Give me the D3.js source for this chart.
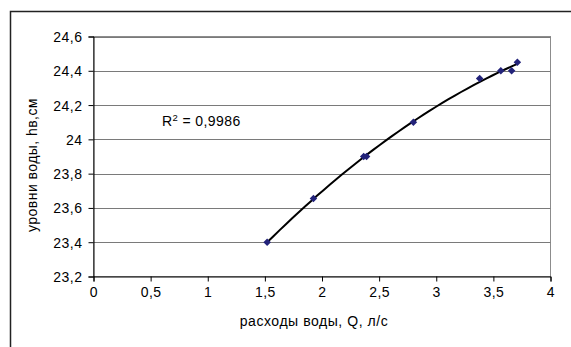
<!DOCTYPE html>
<html>
<head>
<meta charset="utf-8">
<script src="https://cdn.jsdelivr.net/npm/d3@7"></script>
<style>
  body { margin: 0; background: #fff; }
  svg { display: block; font-family: "Liberation Sans", Arial, sans-serif; }
</style>
</head>
<body>
<div id="chart"></div>
<script>
// measured points: discharge Q (l/s) and water level h (cm)
var flow = [1.52, 1.925, 2.365, 2.39, 2.80, 3.38, 3.565, 3.66, 3.71];
var level = [23.40, 23.655, 23.90, 23.90, 24.10, 24.355, 24.40, 24.40, 24.45];

var xTicks = [0, 0.5, 1, 1.5, 2, 2.5, 3, 3.5, 4];
var yTicks = [23.2, 23.4, 23.6, 23.8, 24, 24.2, 24.4, 24.6];
var r2Label = "0,9986";

var width = 571, height = 347;
var mLeft = 93.5, mRight = 550.5, mTop = 36.5, mBottom = 276.5;

var svg = d3.select("#chart")
  .append("svg")
  .attr("width", width)
  .attr("height", height);

// outer chart frame (only top & left visible in the crop)
svg.append("rect")
  .attr("x", 10.5)
  .attr("y", 11.5)
  .attr("width", 580)
  .attr("height", 360)
  .attr("fill", "none")
  .attr("stroke", "#222")
  .style("stroke-width", 1.5);

var x = d3.scaleLinear().domain([0, 4]).range([mLeft, mRight]);
var y = d3.scaleLinear().domain([23.2, 24.6]).range([mBottom, mTop]);

var comma = function(d) { return String(d).replace(".", ","); };

// plot area border (grey)
svg.append("rect")
  .attr("x", mLeft)
  .attr("y", mTop)
  .attr("width", mRight - mLeft)
  .attr("height", mBottom - mTop)
  .attr("fill", "none")
  .attr("stroke", "#8c8c8c")
  .style("stroke-width", 1);

// horizontal gridlines
svg.selectAll("gridline")
  .data(yTicks.slice(1))
  .enter()
  .append("line")
    .attr("x1", mLeft)
    .attr("x2", mRight)
    .attr("y1", function(d) { return Math.round(y(d)) + 0.5; })
    .attr("y2", function(d) { return Math.round(y(d)) + 0.5; })
    .attr("stroke", "#7a7a7a")
    .style("stroke-width", 1);

// Y axis
var yAxis = svg.append("g")
  .attr("transform", "translate(" + mLeft + ",0)")
  .call(d3.axisLeft(y).tickValues(yTicks).tickSize(5).tickPadding(6).tickFormat(comma));

// X axis
var xAxis = svg.append("g")
  .attr("transform", "translate(0," + mBottom + ")")
  .call(d3.axisBottom(x).tickValues(xTicks).tickSize(5).tickPadding(6).tickFormat(comma));

[xAxis, yAxis].forEach(function(g) {
  g.select(".domain").attr("stroke", "#000");
  g.selectAll(".tick line").attr("stroke", "#000");
  g.selectAll("text")
    .attr("fill", "#000")
    .style("font-size", "14px")
    .style("letter-spacing", "0.5px")
    .style("font-family", "Liberation Sans, Arial, sans-serif");
});
yAxis.selectAll("text").attr("dy", "0.36em");

// axis titles
svg.append("text")
  .attr("x", 314)
  .attr("y", 326)
  .attr("text-anchor", "middle")
  .style("font-size", "14px")
  .style("letter-spacing", "0.55px")
  .text("расходы воды, Q, л/с");

svg.append("text")
  .attr("transform", "rotate(-90)")
  .attr("x", -165)
  .attr("y", 37)
  .attr("text-anchor", "middle")
  .style("font-size", "14px")
  .style("letter-spacing", "0.45px")
  .text("уровни воды, hв,см");

// quadratic least-squares trendline, as the spreadsheet does
function quadFit(xs, ys) {
  var n = xs.length, s = [0, 0, 0, 0, 0], t = [0, 0, 0];
  for (var i = 0; i < n; i++) {
    var p = 1;
    for (var k = 0; k < 5; k++) { s[k] += p; if (k < 3) t[k] += p * ys[i]; p *= xs[i]; }
  }
  var A = [[s[0], s[1], s[2], t[0]], [s[1], s[2], s[3], t[1]], [s[2], s[3], s[4], t[2]]];
  for (var c = 0; c < 3; c++) {
    for (var r = c + 1; r < 3; r++) {
      var f = A[r][c] / A[c][c];
      for (var k2 = c; k2 < 4; k2++) A[r][k2] -= f * A[c][k2];
    }
  }
  var b = [0, 0, 0];
  for (var r2 = 2; r2 >= 0; r2--) {
    var v = A[r2][3];
    for (var k3 = r2 + 1; k3 < 3; k3++) v -= A[r2][k3] * b[k3];
    b[r2] = v / A[r2][r2];
  }
  return b;
}
var coef = quadFit(flow, level);
var xmin = d3.min(flow), xmax = d3.max(flow);
var trend = d3.range(0, 41).map(function(i) {
  var q = xmin + (xmax - xmin) * i / 40;
  return {x: q, y: coef[0] + coef[1] * q + coef[2] * q * q};
});

svg.append("path")
  .datum(trend)
  .attr("d", d3.line()
    .x(function(d) { return x(d.x); })
    .y(function(d) { return y(d.y); }))
  .attr("fill", "none")
  .attr("stroke", "#000")
  .style("stroke-width", 2);

// diamond markers
svg.selectAll("marker")
  .data(flow)
  .enter()
  .append("path")
    .attr("d", d3.symbol().type(d3.symbolDiamond2).size(36))
    .attr("transform", function(d, i) { return "translate(" + x(d) + "," + y(level[i]) + ")"; })
    .attr("fill", "#23237a");

// R² annotation
var r2 = svg.append("text")
  .attr("x", 162)
  .attr("y", 126)
  .style("font-size", "14px")
  .style("letter-spacing", "0.4px");
r2.append("tspan").text("R");
r2.append("tspan").attr("dy", -5).style("font-size", "9.5px").text("2");
r2.append("tspan").attr("dy", 5).text(" = " + r2Label);
</script>
</body>
</html>
